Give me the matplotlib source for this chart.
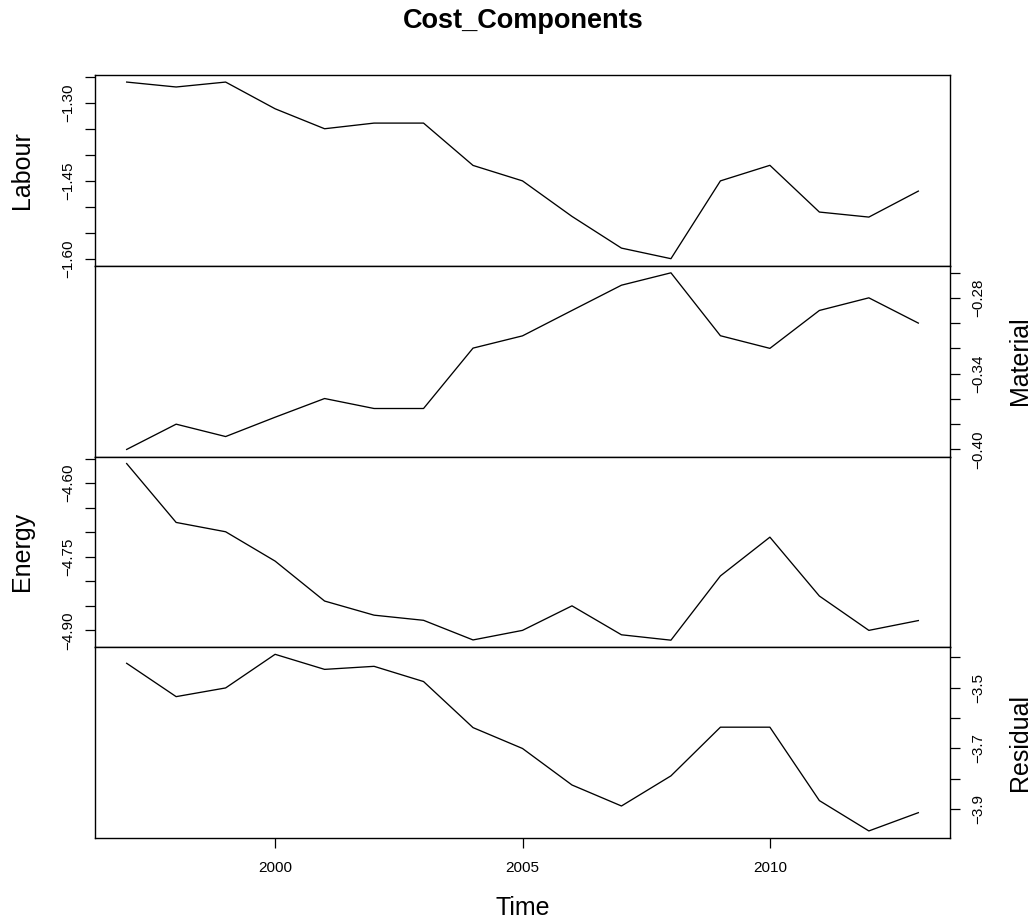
import matplotlib
matplotlib.use("Agg")
import matplotlib.pyplot as plt

plt.rcParams["font.family"] = ["Liberation Sans", "DejaVu Sans"]

# Annual series, 1997-2013
years = list(range(1997, 2014))

labour = [-1.2595, -1.269, -1.2595, -1.311, -1.3495, -1.3386, -1.3386, -1.4202,
          -1.45, -1.5185, -1.5796, -1.60, -1.45, -1.42, -1.5101, -1.5198, -1.4697]
material = [-0.40, -0.38, -0.3898, -0.3745, -0.3597, -0.3676, -0.3676, -0.3198,
            -0.3101, -0.29, -0.27, -0.2602, -0.31, -0.32, -0.29, -0.28, -0.30]
energy = [-4.56, -4.68, -4.699, -4.7588, -4.8402, -4.869, -4.8795, -4.9195,
          -4.90, -4.85, -4.909, -4.92, -4.789, -4.71, -4.83, -4.90, -4.88]
residual = [-3.42, -3.5296, -3.501, -3.3905, -3.44, -3.43, -3.48, -3.6314,
            -3.70, -3.82, -3.889, -3.79, -3.63, -3.63, -3.8713, -3.971, -3.911]

series_names = ["Labour", "Material", "Energy", "Residual"]
series_values = [labour, material, energy, residual]

# Tick positions per panel, and the subset that carries a label
labour_ticks = [-1.60, -1.55, -1.50, -1.45, -1.40, -1.35, -1.30, -1.25]
labour_labels = ["\u22121.60", "", "", "\u22121.45", "", "", "\u22121.30", ""]
material_ticks = [-0.40, -0.38, -0.36, -0.34, -0.32, -0.30, -0.28, -0.26]
material_labels = ["\u22120.40", "", "", "\u22120.34", "", "", "\u22120.28", ""]
energy_ticks = [-4.90, -4.85, -4.80, -4.75, -4.70, -4.65, -4.60, -4.55]
energy_labels = ["\u22124.90", "", "", "\u22124.75", "", "", "\u22124.60", ""]
residual_ticks = [-3.9, -3.8, -3.7, -3.6, -3.5, -3.4]
residual_labels = ["\u22123.9", "", "\u22123.7", "", "\u22123.5", ""]

tick_sets = [labour_ticks, material_ticks, energy_ticks, residual_ticks]
label_sets = [labour_labels, material_labels, energy_labels, residual_labels]

x_ticks = [2000, 2005, 2010]
x_tick_labels = ["2000", "2005", "2010"]

W, H = 1032, 923
fig = plt.figure(figsize=(W / 100, H / 100), dpi=100)

left_px, right_px, top_px, bottom_px = 95, 950, 75, 838
panel_h = (bottom_px - top_px) / 4

tick_len = 7.5
tick_fs = 11
label_fs = 18

axes = []
for i, (name, vals, ticks, labels) in enumerate(
        zip(series_names, series_values, tick_sets, label_sets)):
    y_top = top_px + i * panel_h
    ax = fig.add_axes([left_px / W, 1 - (y_top + panel_h) / H,
                       (right_px - left_px) / W, panel_h / H])
    ax.plot(years, vals, color="black", linewidth=0.95)
    ax.margins(x=0.04, y=0.04)
    for sp in ax.spines.values():
        sp.set_linewidth(1.0)
        sp.set_color("black")

    on_right = (i % 2 == 1)
    ax.set_yticks(ticks)
    ax.set_yticklabels(labels)
    ax.tick_params(axis="y", direction="out", length=tick_len, width=0.9,
                   labelsize=tick_fs, pad=7.7 if on_right else 6.7,
                   left=not on_right, labelleft=not on_right,
                   right=on_right, labelright=on_right)
    for t in ax.get_yticklabels():
        t.set_rotation(90)
        t.set_va("center")

    ymid = 1 - (y_top + panel_h / 2) / H
    if on_right:
        fig.text(1020 / W, ymid, name, rotation=90, ha="center", va="center",
                 fontsize=label_fs)
    else:
        fig.text(22 / W, ymid, name, rotation=90, ha="center", va="center",
                 fontsize=label_fs)

    if i == 3:
        ax.set_xticks(x_ticks)
        ax.set_xticklabels(x_tick_labels)
        ax.tick_params(axis="x", direction="out", length=tick_len, width=0.9,
                       labelsize=tick_fs, pad=9)
    else:
        ax.set_xticks([])
    axes.append(ax)

fig.text(523 / W, 1 - 28 / H, "Cost_Components", ha="center", va="baseline",
         fontsize=19.5, fontweight="bold")
fig.text(523 / W, 1 - 915 / H, "Time", ha="center", va="baseline",
         fontsize=label_fs)

fig.savefig("out.png", dpi=100)
